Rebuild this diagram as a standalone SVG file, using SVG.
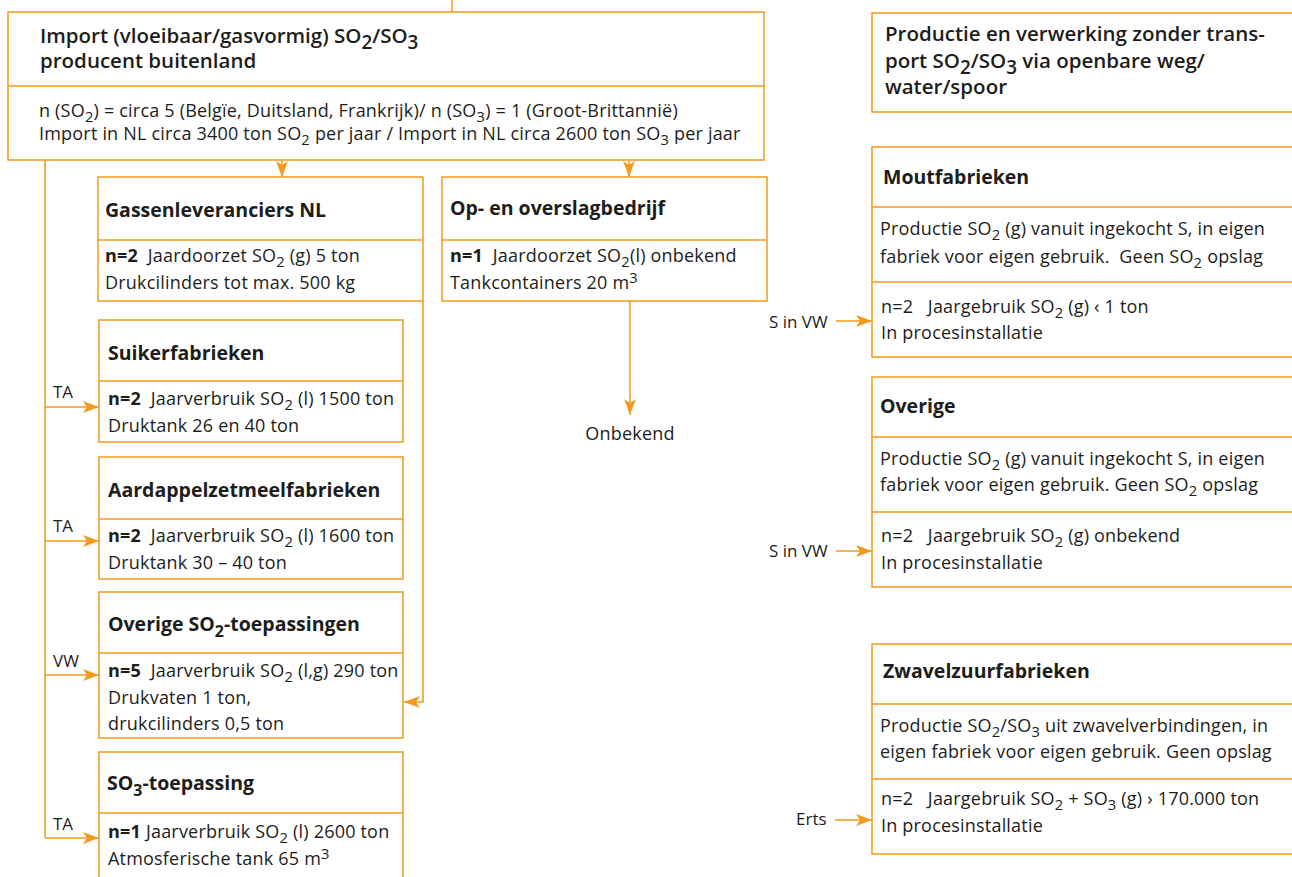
<svg xmlns="http://www.w3.org/2000/svg" width="1292" height="877" viewBox="0 0 1292 877">
<style>
text{font-family:"Open Sans","Noto Sans","Liberation Sans",sans-serif;fill:#1d1d1b;}
.box{fill:#fff;stroke:#F39A1E;stroke-width:1.5;}
.div{stroke:#F39A1E;stroke-width:1.5;fill:none;}
.con{stroke:#F39A1E;stroke-width:1.5;fill:none;}
.h1{font-size:20.5px;font-weight:600;}
.h2{font-size:19.5px;font-weight:700;}
.b{font-size:18px;letter-spacing:0.2px;}
.lbl{font-size:17px;}
.bold{font-weight:700;}
.sub{font-size:0.82em;}
.h1 .sub{font-size:0.92em;}
</style>
<defs>
<marker id="ah" markerUnits="userSpaceOnUse" markerWidth="16" markerHeight="12" refX="16" refY="6" orient="auto">
<path d="M0,0 L16,6 L0,12 L4,6 Z" fill="#F39A1E"/>
</marker>
</defs>

<g id="connectors">
<line class="con" x1="452" y1="0" x2="452" y2="12"/>
<polyline class="con" points="45,160 45,838"/>
<line class="con" x1="45" y1="407" x2="99" y2="407" marker-end="url(#ah)"/>
<line class="con" x1="45" y1="541" x2="99" y2="541" marker-end="url(#ah)"/>
<line class="con" x1="45" y1="675" x2="99" y2="675" marker-end="url(#ah)"/>
<line class="con" x1="45" y1="838" x2="99" y2="838" marker-end="url(#ah)"/>
<line class="con" x1="282" y1="160" x2="282" y2="177" marker-end="url(#ah)"/>
<line class="con" x1="629" y1="160" x2="629" y2="177" marker-end="url(#ah)"/>
<polyline class="con" points="423,301 423,702 404,702" marker-end="url(#ah)"/>
<line class="con" x1="630" y1="301" x2="630" y2="415" marker-end="url(#ah)"/>
<line class="con" x1="836" y1="321" x2="872" y2="321" marker-end="url(#ah)"/>
<line class="con" x1="836" y1="551" x2="872" y2="551" marker-end="url(#ah)"/>
<line class="con" x1="835" y1="820" x2="872" y2="820" marker-end="url(#ah)"/>
<text class="lbl" x="53" y="398">TA</text>
<text class="lbl" x="53" y="532">TA</text>
<text class="lbl" x="53" y="667">VW</text>
<text class="lbl" x="53" y="830">TA</text>
<text class="b" x="630" y="440" text-anchor="middle">Onbekend</text>
<text class="lbl" x="769" y="328">S in VW</text>
<text class="lbl" x="769" y="557">S in VW</text>
<text class="lbl" x="796" y="825">Erts</text>
</g>

<g id="import">
<rect class="box" x="8" y="12" width="756" height="148"/>
<line class="div" x1="8" y1="86" x2="764" y2="86"/>
<text class="h1" x="40" y="43">Import (vloeibaar/gasvormig) SO<tspan class="sub" dy="6">2</tspan><tspan dy="-6">/SO</tspan><tspan class="sub" dy="6">3</tspan></text>
<text class="h1" x="40" y="68">producent buitenland</text>
<text class="b" x="39" y="117">n (SO<tspan class="sub" dy="5">2</tspan><tspan dy="-5">) = circa 5 (Belgïe, Duitsland, Frankrijk)/ n (SO</tspan><tspan class="sub" dy="5">3</tspan><tspan dy="-5">) = 1 (Groot-Brittannië)</tspan></text>
<text class="b" x="39" y="140">Import in NL circa 3400 ton SO<tspan class="sub" dy="5">2</tspan><tspan dy="-5"> per jaar / Import in NL circa 2600 ton SO</tspan><tspan class="sub" dy="5">3</tspan><tspan dy="-5"> per jaar</tspan></text>
</g>

<g id="gassen">
<rect class="box" x="98" y="177" width="325" height="124"/>
<line class="div" x1="98" y1="240" x2="423" y2="240"/>
<text class="h2" x="105" y="217">Gassenleveranciers NL</text>
<text class="b" x="105" y="262" xml:space="preserve"><tspan class="bold">n=2</tspan>  Jaardoorzet SO<tspan class="sub" dy="5">2</tspan><tspan dy="-5"> (g) 5 ton</tspan></text>
<text class="b" x="105" y="289">Drukcilinders tot max. 500 kg</text>
</g>

<g id="overslag">
<rect class="box" x="442" y="177" width="325" height="124"/>
<line class="div" x1="442" y1="240" x2="767" y2="240"/>
<text class="h2" x="450" y="215">Op- en overslagbedrijf</text>
<text class="b" x="450" y="262" xml:space="preserve"><tspan class="bold">n=1</tspan>  Jaardoorzet SO<tspan class="sub" dy="5">2</tspan><tspan dy="-5">(l) onbekend</tspan></text>
<text class="b" x="450" y="289">Tankcontainers 20 m<tspan class="sub" dy="-6">3</tspan></text>
</g>

<g id="suiker">
<rect class="box" x="99" y="320" width="304" height="122"/>
<line class="div" x1="99" y1="381" x2="403" y2="381"/>
<text class="h2" x="108" y="360">Suikerfabrieken</text>
<text class="b" x="108" y="405" xml:space="preserve"><tspan class="bold">n=2</tspan>  Jaarverbruik SO<tspan class="sub" dy="5">2</tspan><tspan dy="-5"> (l) 1500 ton</tspan></text>
<text class="b" x="108" y="432">Druktank 26 en 40 ton</text>
</g>

<g id="aardappel">
<rect class="box" x="99" y="457" width="304" height="122"/>
<line class="div" x1="99" y1="519" x2="403" y2="519"/>
<text class="h2" x="108" y="497">Aardappelzetmeelfabrieken</text>
<text class="b" x="108" y="542" xml:space="preserve"><tspan class="bold">n=2</tspan>  Jaarverbruik SO<tspan class="sub" dy="5">2</tspan><tspan dy="-5"> (l) 1600 ton</tspan></text>
<text class="b" x="108" y="569">Druktank 30 – 40 ton</text>
</g>

<g id="overige-so2">
<rect class="box" x="99" y="592" width="304" height="146"/>
<line class="div" x1="99" y1="653" x2="403" y2="653"/>
<text class="h2" x="108" y="631">Overige SO<tspan class="sub" dy="6">2</tspan><tspan dy="-6">-toepassingen</tspan></text>
<text class="b" x="108" y="677" xml:space="preserve"><tspan class="bold">n=5</tspan>  Jaarverbruik SO<tspan class="sub" dy="5">2</tspan><tspan dy="-5"> (l,g) 290 ton</tspan></text>
<text class="b" x="108" y="704">Drukvaten 1 ton,</text>
<text class="b" x="108" y="730">drukcilinders 0,5 ton</text>
</g>

<g id="so3">
<rect class="box" x="99" y="752" width="304" height="140"/>
<line class="div" x1="99" y1="813" x2="403" y2="813"/>
<text class="h2" x="107" y="790">SO<tspan class="sub" dy="6">3</tspan><tspan dy="-6">-toepassing</tspan></text>
<text class="b" x="108" y="838" xml:space="preserve"><tspan class="bold">n=1</tspan> Jaarverbruik SO<tspan class="sub" dy="5">2</tspan><tspan dy="-5"> (l) 2600 ton</tspan></text>
<text class="b" x="108" y="865">Atmosferische tank 65 m<tspan class="sub" dy="-6">3</tspan></text>
</g>

<g id="productie">
<rect class="box" x="872" y="13" width="440" height="99"/>
<text class="h1" x="885" y="41">Productie en verwerking zonder trans-</text>
<text class="h1" x="885" y="68">port SO<tspan class="sub" dy="6">2</tspan><tspan dy="-6">/SO</tspan><tspan class="sub" dy="6">3</tspan><tspan dy="-6"> via openbare weg/</tspan></text>
<text class="h1" x="885" y="94">water/spoor</text>
</g>

<g id="mout">
<rect class="box" x="872" y="147" width="440" height="210"/>
<line class="div" x1="872" y1="207" x2="1300" y2="207"/>
<line class="div" x1="872" y1="282" x2="1300" y2="282"/>
<text class="h2" x="883" y="184">Moutfabrieken</text>
<text class="b" x="880" y="235">Productie SO<tspan class="sub" dy="5">2</tspan><tspan dy="-5"> (g) vanuit ingekocht S, in eigen</tspan></text>
<text class="b" x="880" y="263" xml:space="preserve">fabriek voor eigen gebruik.  Geen SO<tspan class="sub" dy="5">2</tspan><tspan dy="-5"> opslag</tspan></text>
<text class="b" x="881" y="313" xml:space="preserve">n=2   Jaargebruik SO<tspan class="sub" dy="5">2</tspan><tspan dy="-5"> (g) ‹ 1 ton</tspan></text>
<text class="b" x="881" y="339">In procesinstallatie</text>
</g>

<g id="overige">
<rect class="box" x="872" y="377" width="440" height="210"/>
<line class="div" x1="872" y1="437" x2="1300" y2="437"/>
<line class="div" x1="872" y1="512" x2="1300" y2="512"/>
<text class="h2" x="880" y="413">Overige</text>
<text class="b" x="880" y="465">Productie SO<tspan class="sub" dy="5">2</tspan><tspan dy="-5"> (g) vanuit ingekocht S, in eigen</tspan></text>
<text class="b" x="880" y="491">fabriek voor eigen gebruik. Geen SO<tspan class="sub" dy="5">2</tspan><tspan dy="-5"> opslag</tspan></text>
<text class="b" x="881" y="542" xml:space="preserve">n=2   Jaargebruik SO<tspan class="sub" dy="5">2</tspan><tspan dy="-5"> (g) onbekend</tspan></text>
<text class="b" x="881" y="569">In procesinstallatie</text>
</g>

<g id="zwavelzuur">
<rect class="box" x="872" y="644" width="440" height="210"/>
<line class="div" x1="872" y1="704" x2="1300" y2="704"/>
<line class="div" x1="872" y1="779" x2="1300" y2="779"/>
<text class="h2" x="883" y="678">Zwavelzuurfabrieken</text>
<text class="b" x="880" y="732">Productie SO<tspan class="sub" dy="5">2</tspan><tspan dy="-5">/SO</tspan><tspan class="sub" dy="5">3</tspan><tspan dy="-5"> uit zwavelverbindingen, in</tspan></text>
<text class="b" x="880" y="758">eigen fabriek voor eigen gebruik. Geen opslag</text>
<text class="b" x="881" y="805" xml:space="preserve">n=2   Jaargebruik SO<tspan class="sub" dy="5">2</tspan><tspan dy="-5"> + SO</tspan><tspan class="sub" dy="5">3</tspan><tspan dy="-5"> (g) › 170.000 ton</tspan></text>
<text class="b" x="881" y="832">In procesinstallatie</text>
</g>
</svg>
